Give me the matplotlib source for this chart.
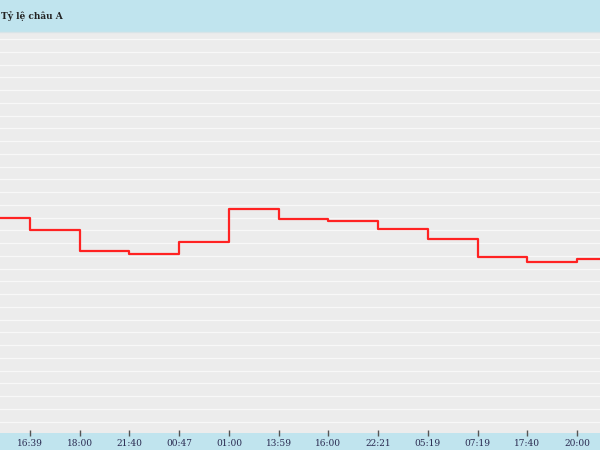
import numpy as np
import matplotlib
matplotlib.use('Agg')
import matplotlib.pyplot as plt

# tick labels along the bottom (time of each reading)
labels = ['16:39', '18:00', '21:40', '00:47', '01:00', '13:59',
          '16:00', '22:21', '05:19', '07:19', '17:40', '20:00']
# level held before the first reading, then one level per reading
start_level = 16.95
levels = [16.0, 14.35, 14.1, 15.1, 17.65, 16.9,
          16.7, 16.1, 15.3, 13.9, 13.55, 13.75]

band = '#c0e4ee'
bg = '#ececec'

fig = plt.figure(figsize=(6, 4.5), dpi=100, facecolor=band)
ax = fig.add_axes([0, 17 / 450, 1, (433 - 32) / 450])
ax.set_facecolor(bg)

xs = np.arange(len(labels))
xl = (-0.603, 11.46)
x_line = np.concatenate([[xl[0]], xs, [xl[1]]])
y_line = np.concatenate([[start_level], levels, [levels[-1]]])
ax.step(x_line, y_line, where='post', color='#ff2222', lw=1.6, zorder=3)

ax.set_xlim(*xl)
ax.set_ylim(0.1, 31.55)
ax.set_yticks(np.arange(1, 32))
ax.yaxis.grid(True, color='#f8f8f8', lw=0.9)
ax.set_axisbelow(True)
ax.tick_params(axis='y', left=False, labelleft=False)

ax.set_xticks(xs)
ax.set_xticklabels(labels, fontsize=6.5, color='#2a2a50',
                   family='DejaVu Serif')
ax.tick_params(axis='x', direction='inout', length=5, width=1,
               color='#555555', pad=2)

for s in ax.spines.values():
    s.set_visible(False)
ax.spines['top'].set_visible(True)
ax.spines['top'].set_color('#d8e4e8')
ax.spines['top'].set_linewidth(1)

fig.text(1 / 600, 1 - 16 / 450, 'Tỷ lệ châu A', fontsize=6.5,
         fontweight='bold', family='DejaVu Serif', color='#222222',
         va='center', ha='left')

fig.savefig('out.png', dpi=100, facecolor=band)
